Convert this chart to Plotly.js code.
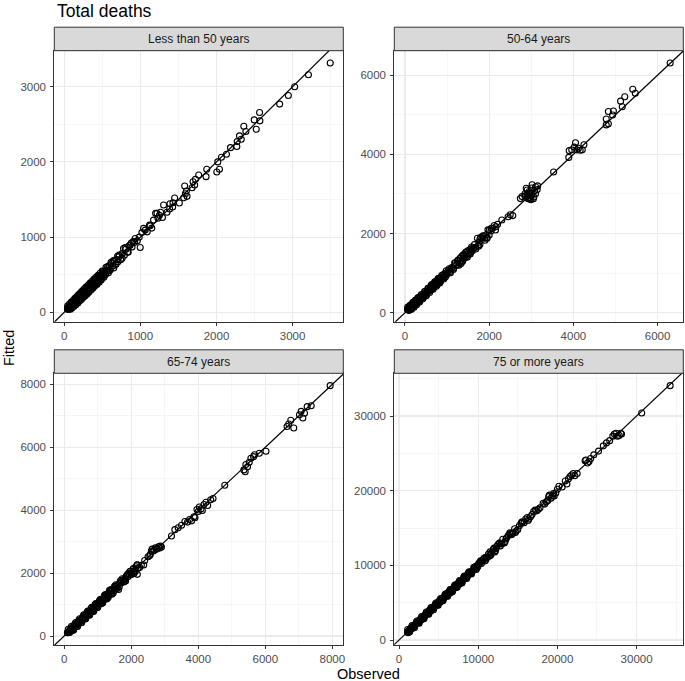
<!DOCTYPE html>
<html>
<head>
<meta charset="utf-8">
<script src="https://cdn.plot.ly/plotly-3.0.1.min.js"></script>
<style>
  html, body { margin: 0; padding: 0; background: #fff; }
  #graph { width: 685px; height: 681px; }
</style>
</head>
<body>
<div id="graph"></div>
<script>
// Panel titles (facets)
const panelNames = ['Less than 50 years', '50-64 years', '65-74 years', '75 or more years'];

// Less than 50 years: observed vs fitted deaths
const obsU50 = [42,48,55,60,66,72,78,85,90,96,102,110,116,122,130,136,142,150,156,162,
  170,176,184,190,198,205,212,220,228,235,242,250,258,265,272,280,288,295,302,310,
  318,325,332,340,348,355,362,370,378,385,392,400,410,418,425,435,445,455,465,478,
  490,500,515,530,545,560,575,590,605,620,640,655,670,690,705,720,740,760,778,790,
  810,830,850,866,890,905,925,932,960,985,998,1020,1042,1064,1090,1120,1130,1150,1173,1200,
  1218,1230,1250,1265,1290,1305,1350,1384,1389,1424,1428,1450,1512,1569,1582,1591,1604,1613,1679,1692,
  1713,1723,1766,1863,1872,2004,2017,2039,2065,2131,2184,2267,2272,2302,2325,2359,2386,2496,2522,2566,
  2570,2830,2944,3027,3208,3494,
  50,70,95,120,145,170,195,220,245,270,295,320,345,370,395,420,450,480,510,540,
  570,600,640,680,720,760,800,840,880,
  45,58,68,82,92,105,118,128,140,152,165,178,188,200,215,225,238,252,262,275,
  285,300,312,322,335,350,360,375,388,398,412,428,440,458,470,485,498,520,548,580,
  615,650,700,
  44,52,62,74,86,98,112,124,134,146,158,172,182,194,208,218,232,246,256,268,
  282,292,306,316,328,342,352,366,380,394,404,415,432,448,462,475,492,505,525,555];
const fitU50 = [39,52,48,64,58,80,70,90,82,104,94,118,104,130,118,146,128,160,140,172,
  154,188,166,200,178,218,192,232,205,248,220,262,232,278,245,292,262,308,275,325,
  290,340,305,355,318,372,330,385,345,402,360,415,378,440,392,450,410,475,430,490,
  462,520,485,550,515,580,548,620,575,648,615,690,640,700,672,740,700,780,849,760,
  840,800,885,893,870,940,930,982,950,1000,862,1060,1116,1093,1070,1160,1150,1120,1226,1316,
  1316,1250,1290,1330,1260,1426,1330,1373,1444,1400,1457,1520,1453,1524,1680,1577,1613,1542,1657,1737,
  1693,1768,1826,1804,1902,1866,2000,1902,2062,2102,2190,2204,2270,2346,2302,2475,2404,2559,2435,2657,
  2546,2769,2884,3000,3159,3315,
  70,50,120,95,175,140,225,185,280,230,330,280,380,330,430,380,490,440,545,500,
  610,560,680,640,760,720,860,800,920,
  88,40,110,40,135,60,160,80,185,100,210,125,235,150,262,170,285,200,310,220,
  335,245,360,265,385,295,410,320,438,345,462,370,490,400,520,430,548,465,600,525,
  665,590,745,
  50,46,68,70,92,94,118,120,140,142,164,168,188,190,214,214,238,242,262,264,
  288,288,312,312,334,338,358,362,386,390,410,411,438,444,468,471,498,501,531,551];

// 50-64 years
const obs5064 = [58,75,90,102,118,132,146,160,176,190,205,220,236,250,266,280,296,310,326,340,
  356,370,386,400,420,440,460,480,520,560,590,610,630,650,670,690,710,730,750,770,
  790,810,830,850,880,910,950,990,1030,1070,1110,1150,1190,1230,1260,1290,1310,1330,1350,1370,
  1400,1420,1440,1460,1490,1510,1540,1560,1580,1600,1640,1680,1720,1740,1760,1780,1800,1830,1860,1890,
  1920,1950,1970,2000,2040,2080,2120,2160,2200,2300,2450,2500,2560,2740,2780,2850,2880,2900,2920,2950,
  2970,2990,3000,3020,3060,3080,3100,3140,3150,3530,3890,3900,3960,4020,4050,4080,4120,4160,4210,4250,
  4780,4780,4830,4830,4930,4950,5120,5160,5220,5410,5470,6298,2940,2960,3010,2930,
  80,110,140,170,200,230,260,290,330,360,400,440,480,520,560,600,640,680,720,760,
  800,840,900,960,1050,1150,1250,1350,1450,1550,1650,1750,1850,1950,2050,2150,2850,2900,2950,3000,
  3050,3100,
  65,95,125,155,185,215,245,275,305,345,385,425,465,505,545,585,625,665,705,745,
  785,825,870,920,980,1080,1180,1280,1380,1480,1580,1680,1780,1900,2000,
  70,100,135,165,195,225,255,285,318,350,380,410,450,490,530,570,605,645,685,725,
  765,805,845,890,940,1000,1100,1200,1300,1400,1500,1600];
const fit5064 = [84,66,104,90,130,112,162,142,192,170,222,200,252,230,286,260,312,290,346,316,
  376,350,402,380,442,414,482,452,542,546,612,590,662,620,702,660,742,700,782,740,
  822,790,862,820,902,880,992,960,1062,1040,1142,1120,1242,1200,1332,1262,1382,1240,1422,1302,
  1452,1382,1522,1422,1562,1482,1592,1522,1622,1562,1642,1652,1882,1702,1782,1722,1902,1882,1922,1882,
  1962,1902,2092,1962,2062,2132,2202,2172,2232,2342,2422,2472,2452,2882,2932,3002,3142,2962,2882,3062,
  2902,2852,3012,3232,2922,3082,3002,3112,3202,3552,3922,4092,4112,4182,4292,4112,4152,4102,4112,4242,
  4742,4892,4772,5082,4992,5092,5342,5202,5452,5642,5542,6305,2990,3030,2960,2940,
  120,70,185,120,260,180,320,240,390,310,460,390,540,470,620,560,710,630,780,700,
  860,780,960,900,1110,1090,1310,1290,1530,1480,1720,1680,1940,1880,2130,2090,2950,3100,2880,3150,
  2880,3180,
  140,60,195,90,255,140,315,200,375,270,455,350,535,430,615,510,700,590,780,670,
  860,750,940,850,1060,1010,1260,1200,1460,1400,1660,1610,1860,1830,2080,
  78,94,143,159,203,219,263,279,326,344,388,404,458,484,538,564,613,639,693,719,
  773,799,853,884,948,994,1108,1194,1308,1394,1508,1594];

// 65-74 years
const obs6574 = [94,110,130,150,170,190,210,230,250,270,290,310,330,350,370,390,410,430,450,470,
  490,510,530,550,570,590,610,630,650,670,690,710,730,750,770,790,810,830,850,870,
  890,910,930,950,970,990,1010,1040,1070,1100,1130,1160,1190,1220,1250,1280,1310,1340,1370,1400,
  1440,1480,1520,1560,1600,1620,1660,1700,1750,1800,1850,1900,1920,1950,1970,2000,2020,2070,2100,2140,
  2172,2180,2250,2370,2400,2500,2550,2571,2600,2622,2680,2720,2780,2820,2871,2900,3200,3300,3400,3500,
  3600,3680,3740,3800,3870,3900,3960,4000,4030,4080,4120,4170,4230,4280,4370,4440,4790,5360,5400,5420,
  5470,5520,5570,5650,5680,5820,6020,6650,6700,6760,6850,7020,7070,7120,7170,7250,7370,7936,
  200,260,320,380,440,500,560,620,680,740,800,860,920,980,1050,1120,1200,1270,1350,1420,
  1500,1580,1680,1780,1880,2050,2120,2200,2300,2650,2750,2850,
  120,160,220,280,340,400,460,520,580,640,700,760,820,880,940,1000,1080,1150,1230,1310,
  1390,1460,1540,1640,1730,1830,1960,2080,2180,
  100,140,180,240,300,360,420,480,540,600,660,720,780,840,900,960,1020,1060,1110,1180,
  1260,1330,1410,1500,1580,1700,1800];
const fit6574 = [107,108,140,130,180,170,225,210,260,250,305,290,345,330,385,370,430,410,470,450,
  510,490,550,525,590,570,630,605,670,650,710,690,760,720,790,770,840,800,870,850,
  920,890,960,930,1000,970,1050,1010,1100,1070,1170,1130,1230,1190,1300,1250,1360,1300,1420,1360,
  1480,1440,1560,1500,1620,1480,1700,1690,1780,1770,1900,1880,1990,1940,2060,2000,1960,2150,2080,2200,
  2256,1960,2180,2256,2400,2520,2560,2600,2700,2760,2720,2800,2780,2840,2860,2830,3180,3380,3440,3520,
  3640,3620,3700,3660,3790,3760,4020,3960,4100,4040,3990,4180,4250,4150,4330,4370,4790,5280,5220,5450,
  5380,5520,5650,5700,5760,5810,5870,6660,6740,6860,6610,7030,7140,6930,7080,7290,7320,7958,
  260,180,390,300,510,420,630,540,750,660,880,780,1000,900,1130,1030,1290,1180,1450,1330,
  1580,1520,1760,1720,1950,2120,2050,2150,2250,2700,2760,2800,
  210,110,310,190,430,310,550,430,670,550,790,670,910,790,1030,910,1170,1060,1320,1220,
  1480,1370,1630,1560,1820,1750,2050,1990,2260,
  112,136,192,236,312,356,432,476,552,596,672,716,792,836,912,956,1032,1056,1122,1176,
  1272,1326,1422,1496,1592,1696,1812];

// 75 or more years
const obs75 = [1066,1150,1300,1400,1600,1700,1800,2000,2200,2300,2400,2600,2800,2900,3000,3200,3400,3500,3600,3800,
  4000,4100,4200,4400,4600,4700,4800,5000,5200,5300,5400,5600,5800,5900,6000,6200,6400,6500,6600,6800,
  7000,7100,7200,7400,7600,7700,7800,8000,8200,8300,8600,8700,8900,9200,9300,9500,9800,9900,10100,10400,
  10500,10700,11000,11200,11300,11600,11900,12000,12200,12500,12700,12800,13100,13400,13600,13800,14200,14400,14600,15000,
  15200,15400,15800,16000,16200,16600,16800,17000,17400,17600,17800,18200,18600,18800,18900,19200,19400,19500,19800,20000,
  20200,20600,21000,21200,21400,21800,22200,22500,23500,23800,24200,24600,25200,25800,26200,26600,27000,27400,27800,28000,
  30650,34240,
  1250,1550,1850,2150,2450,2750,3050,3350,3650,3950,4250,4550,4850,5150,5450,5750,6050,6350,6650,6950,
  7250,7550,7850,8150,8450,8750,9050,9650,9950,10250,10850,11450,12350,13000,14000,14800,15600,16400,17200,18400,
  19000,19600,21600,22000,23600,24000,27200,27600,28100,
  1100,1350,1650,1950,2250,2550,2850,3150,3450,3750,4050,4350,4650,4950,5250,5550,5850,6150,6450,6750,
  7050,7350,7650,7950,8250,8550,8850,9150,9450,9750,10300,10900,11500,12100,12700,13300,14000,14700,15500,16300,
  1120,1420,1720,2020,2320,2620,2920,3220,3520,3820,4120,4420,4720,5020,5320,5620,5920,6220,6520,6820,
  7120,7420,7720,8020,8320,8620,8920,9220,9520,9820,10150,10600,11050,11650,12250,12900,13500,14300];
const fit75 = [1080,984,1250,1500,1500,1750,1900,1880,2300,2350,2280,2700,2680,2850,3120,3080,3520,3550,3480,3930,
  3860,4050,4330,4270,4740,4750,4660,5150,5060,5250,5540,5460,5950,5950,5860,6340,6260,6450,6750,6650,
  7150,7100,7050,7560,7450,7700,7950,7850,8200,8450,8450,8800,9080,9020,9300,9700,9600,10000,10300,10250,
  10600,10900,10850,11100,11500,11400,12100,12300,12000,12800,13000,12600,13500,13200,13700,14000,14100,14300,14900,14800,
  15300,15600,15700,16200,16400,16500,16800,17200,17300,17500,17700,18300,18500,18700,19200,19000,19300,19600,19700,20200,
  20600,20500,21300,20900,21600,22100,22000,22300,24000,23700,24300,24800,25300,26000,26400,26700,27300,27700,27400,27700,
  30400,34066,
  1150,1650,1750,2250,2350,2850,2950,3450,3550,4080,4150,4680,4750,5300,5350,5880,5950,6500,6550,7100,
  7150,7700,7750,8350,8300,8950,8900,9850,9800,10450,11050,11250,12550,12900,14200,14600,15800,16200,17400,18200,
  19400,19300,21900,22300,24100,23900,27600,27300,27600,
  1400,1100,1950,1650,2550,2250,3150,2850,3750,3450,4350,4050,4950,4650,5550,5250,6150,5850,6750,6450,
  7350,7050,7950,7650,8550,8250,9150,8850,9750,9450,10600,10600,11800,11800,13000,13000,14350,14400,15800,16000,
  1140,1400,1740,2000,2340,2600,2940,3200,3540,3800,4140,4400,4740,5000,5340,5600,5940,6200,6540,6800,
  7140,7400,7740,8000,8340,8600,8940,9200,9540,9800,10170,10580,11070,11630,12270,12880,13520,14280];

// axis ranges and ticks for each facet (free scales)
const xRanges = [[-131, 3666], [-254, 6610], [-298, 8328], [-593, 35900]];
const yRanges = [[-125, 3479], [-227, 6616], [-286, 8350], [-670, 35720]];
const majorStep = [1000, 2000, 2000, 10000];

const obsList = [obsU50, obs5064, obs6574, obs75];
const fitList = [fitU50, fit5064, fit6574, fit75];

// panel boxes in pixels [left, right, top, bottom]
const W = 685, H = 681;
const boxes = [[54.3, 343.3, 50.7, 321.7], [394.3, 683.3, 50.7, 321.7],
               [54.3, 343.3, 373.3, 645], [394.3, 683.3, 373.3, 645]];
const stripH = 23.5;

const font = 'Liberation Sans, Arial, Helvetica, sans-serif';
const traces = [];
const layout = {
  width: W, height: H,
  margin: {l: 0, r: 0, t: 0, b: 0},
  paper_bgcolor: '#ffffff',
  plot_bgcolor: '#ffffff',
  showlegend: false,
  font: {family: font, color: '#4d4d4d', size: 11.5},
  shapes: [],
  annotations: []
};

for (let i = 0; i < 4; i++) {
  const sx = i === 0 ? '' : String(i + 1);
  const b = boxes[i];

  traces.push({
    x: obsList[i], y: fitList[i],
    xaxis: 'x' + sx, yaxis: 'y' + sx,
    type: 'scatter', mode: 'markers',
    marker: {symbol: 'circle-open', size: 6, color: '#000000', line: {width: 1.1, color: '#000000'}},
    hoverinfo: 'x+y'
  });

  // identity line y = x
  const lo = Math.min(xRanges[i][0], yRanges[i][0]);
  const hi = Math.max(xRanges[i][1], yRanges[i][1]);
  traces.push({
    x: [lo, hi], y: [lo, hi],
    xaxis: 'x' + sx, yaxis: 'y' + sx,
    type: 'scatter', mode: 'lines',
    line: {color: '#000000', width: 1.2},
    hoverinfo: 'skip'
  });

  const axCommon = {
    showline: true, mirror: true, linecolor: '#333333', linewidth: 1,
    ticks: 'outside', ticklen: 3, tickcolor: '#333333', tickwidth: 1,
    showgrid: true, gridcolor: '#ebebeb', gridwidth: 1.1,
    zeroline: false, tick0: 0, dtick: majorStep[i],
    tickformat: 'd',
    tickfont: {family: font, size: 11.5, color: '#4d4d4d'},
    minor: {dtick: majorStep[i] / 2, showgrid: true, gridcolor: '#f2f2f2', gridwidth: 0.7, ticks: ''},
    fixedrange: true
  };

  layout['xaxis' + sx] = Object.assign({}, axCommon, {
    domain: [b[0] / W, b[1] / W],
    range: xRanges[i],
    anchor: 'y' + sx
  });
  layout['yaxis' + sx] = Object.assign({}, axCommon, {
    domain: [1 - b[3] / H, 1 - b[2] / H],
    range: yRanges[i],
    anchor: 'x' + sx,
    ticklabelstandoff: 2
  });

  // facet strip
  layout.shapes.push({
    type: 'rect', xref: 'paper', yref: 'paper',
    x0: b[0] / W, x1: b[1] / W,
    y0: 1 - b[2] / H, y1: 1 - (b[2] - stripH) / H,
    fillcolor: '#d9d9d9', line: {color: '#333333', width: 1}
  });
  layout.annotations.push({
    text: panelNames[i], xref: 'paper', yref: 'paper',
    x: (b[0] + b[1]) / 2 / W, y: 1 - (b[2] - stripH / 2) / H,
    xanchor: 'center', yanchor: 'middle', showarrow: false,
    font: {family: font, size: 12, color: '#1a1a1a'}
  });
}

// overall title and shared axis titles
layout.annotations.push({
  text: 'Total deaths', xref: 'paper', yref: 'paper',
  x: 55 / W, y: 1 - 11 / H, xanchor: 'left', yanchor: 'middle',
  showarrow: false, font: {family: font, size: 17.5, color: '#000000'}
});
layout.annotations.push({
  text: 'Observed', xref: 'paper', yref: 'paper',
  x: 368.5 / W, y: 1 - 674 / H, xanchor: 'center', yanchor: 'middle',
  showarrow: false, font: {family: font, size: 14.5, color: '#000000'}
});
layout.annotations.push({
  text: 'Fitted', xref: 'paper', yref: 'paper',
  x: 9 / W, y: 1 - 348 / H, xanchor: 'center', yanchor: 'middle', textangle: -90,
  showarrow: false, font: {family: font, size: 14.5, color: '#000000'}
});

Plotly.newPlot('graph', traces, layout, {displayModeBar: false, staticPlot: true});
</script>
</body>
</html>
